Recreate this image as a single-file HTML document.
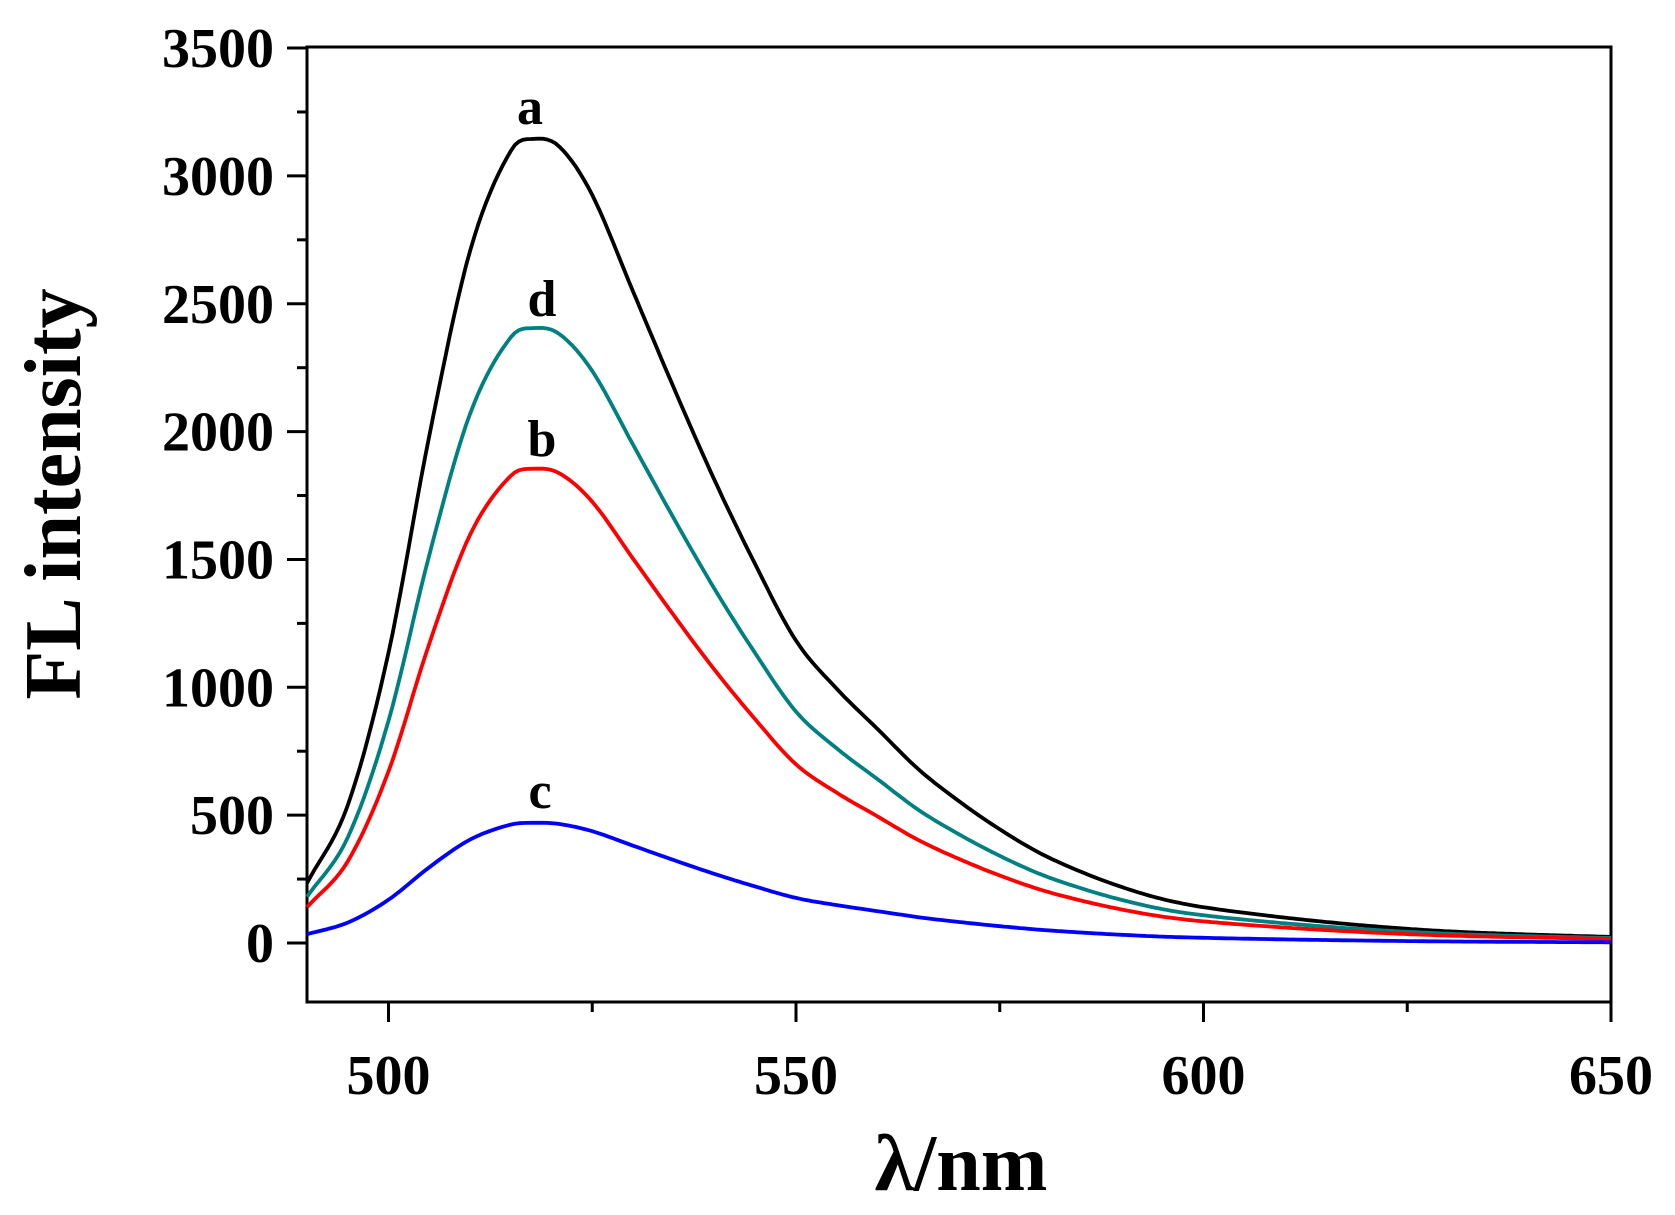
<!DOCTYPE html>
<html><head><style>body{margin:0;background:#fff}svg text{font-family:"Liberation Serif",serif;font-weight:bold}</style></head>
<body>
<svg id="s" width="1675" height="1210" xmlns="http://www.w3.org/2000/svg">
<rect x="307" y="47" width="1304" height="955" fill="none" stroke="#000" stroke-width="3"/>
<g id="ticks" stroke="#000" stroke-width="3"></g>
<g id="curves" fill="none" stroke-width="3.8" stroke-linejoin="round"></g>
<g font-size="56" text-anchor="end" id="yl"></g>
<g font-size="56" text-anchor="middle" id="xl"></g>
<text x="961" y="1190" font-size="80" text-anchor="middle">λ/nm</text>
<text transform="translate(80,494) rotate(-90)" font-size="80" text-anchor="middle">FL intensity</text>
<g font-size="52" text-anchor="middle">
<text x="530" y="124">a</text>
<text x="542" y="316">d</text>
<text x="542" y="456">b</text>
<text x="540" y="808">c</text>
</g>
</svg>
<script>
const X=v=>307+(v-490)*1304/160, Y=v=>943-v*0.2557;
const ns="http://www.w3.org/2000/svg";
function el(p,t,a,txt){const e=document.createElementNS(ns,t);for(const k in a)e.setAttribute(k,a[k]);if(txt)e.textContent=txt;document.getElementById(p).appendChild(e);}
for(let v=-250;v<=3500;v+=250){const y=Y(v);if(y>1002)continue;const maj=v%500==0;el('ticks','line',{x1:maj?287:297,x2:307,y1:y,y2:y});if(maj)el('yl','text',{x:274,y:y+19},String(v));}
for(let v=500;v<=650;v+=25){const x=X(v);const maj=v%50==0;el('ticks','line',{x1:x,x2:x,y1:1002,y2:maj?1022:1012});if(maj)el('xl','text',{x:x,y:1094},String(v));}
const T=[[490,.073],[495,.17],[500,.36],[505,.63],[510,.86],[515,.985],[518,1],[521,.99],[525,.93],[530,.81],[535,.69],[540,.575],[545,.47],[550,.375],[555,.315],[560,.265],[565,.215],[570,.175],[575,.14],[580,.11],[585,.087],[590,.068],[595,.053],[600,.043],[610,.03],[620,.02],[630,.013],[640,.009],[650,.006]];
function f(l){for(let i=0;i<T.length-1;i++){if(l<=T[i+1][0]){const [a,b]=T[i],[c,d]=T[i+1];const t=(l-a)/(c-a);const m0=i>0?(T[i+1][1]-T[i-1][1])/(T[i+1][0]-T[i-1][0]):(d-b)/(c-a);const m1=i<T.length-2?(T[i+2][1]-b)/(T[i+2][0]-a):(d-b)/(c-a);const h=c-a,t2=t*t,t3=t2*t;return (2*t3-3*t2+1)*b+(t3-2*t2+t)*h*m0+(-2*t3+3*t2)*d+(t3-t2)*h*m1;}}return .006;}
[[3140,'#000'],[2400,'#008080'],[1850,'#ff0000'],[470,'#0000ff']].forEach(([p,c])=>{let d='';for(let l=490;l<=650;l+=0.5){d+=(d?'L':'M')+X(l).toFixed(1)+','+Y(p*f(l)+(c=='#0000ff'?0:5)).toFixed(1);}el('curves','path',{d:d,stroke:c});});
</script>
</body></html>
